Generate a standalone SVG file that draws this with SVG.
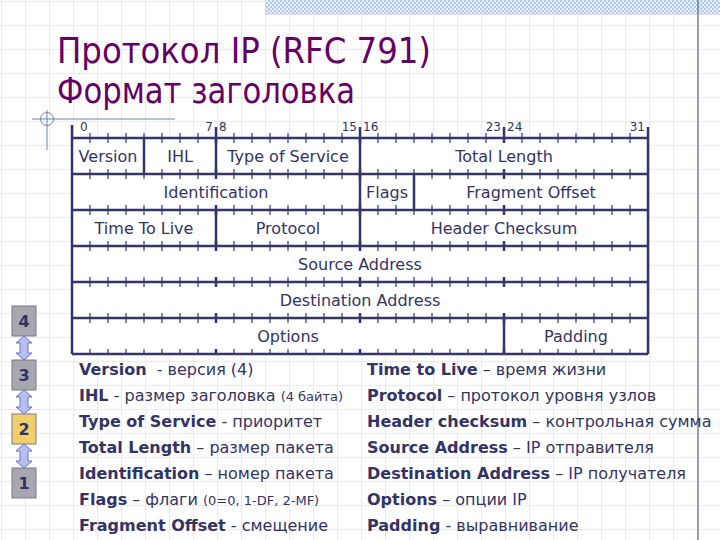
<svg xmlns="http://www.w3.org/2000/svg" width="720" height="540" viewBox="0 0 720 540">
<defs>
<pattern id="grid" patternUnits="userSpaceOnUse" x="1" y="1" width="24" height="24">
<path d="M0 0H24M0 0V24" fill="none" stroke="#e3e3ea" stroke-width="1.5"/>
</pattern>
<pattern id="hatch" patternUnits="userSpaceOnUse" width="4" height="4">
<rect width="4" height="4" fill="#e4eef8"/>
<rect width="2" height="2" fill="#b4cce4"/>
<rect x="2" y="2" width="2" height="2" fill="#b4cce4"/>
</pattern>
<polygon id="darr" points="0,0 8,7 4,7 4,17 8,17 0,24 -8,17 -4,17 -4,7 -8,7"/>
<style>
.t{font-family:"DejaVu Sans","Noto Sans",sans-serif;font-size:16px;fill:#333366;text-anchor:middle}
.r{font-family:"DejaVu Sans","Noto Sans",sans-serif;font-size:12px;fill:#333366}
.ln{stroke:#35356a;stroke-width:2.5;fill:none}
.tk{stroke:#35356a;fill:none}
.d{font-family:"DejaVu Sans","Noto Sans",sans-serif;font-size:16px;fill:#333366}
.b{font-weight:bold;font-size:16px}
.s{font-size:13px}
.box{stroke:#7a7a86;stroke-width:1}
.num{font-family:"DejaVu Sans","Noto Sans",sans-serif;font-size:16px;font-weight:bold;fill:#333366;text-anchor:middle}
.arr{fill:#b6bef2;stroke:#6a74c4;stroke-width:1}
</style>
</defs>
<rect width="720" height="540" fill="#ffffff"/>
<rect width="720" height="540" fill="url(#grid)"/>
<rect x="265" y="0" width="455" height="13" fill="url(#hatch)"/>
<line x1="265" y1="14" x2="720" y2="14" stroke="#d8dcf4" stroke-width="2"/>
<line x1="698" y1="0" x2="698" y2="540" stroke="#7a7e9a" stroke-width="1.5"/>
<g id="crosshair" stroke="#7080b8" stroke-width="1" fill="none">
<line x1="32" y1="119" x2="175" y2="119"/>
<circle cx="47" cy="119" r="6.5"/>
<line x1="47" y1="110" x2="47" y2="150"/>
</g>
<g id="title" font-family="DejaVu Sans,Noto Sans,sans-serif" font-size="36" fill="#660066">
<text x="57" y="63" textLength="374" lengthAdjust="spacingAndGlyphs">Протокол IP (RFC 791)</text>
<text x="57" y="103" textLength="298" lengthAdjust="spacingAndGlyphs">Формат заголовка</text>
</g>
<g id="ip-header">
<rect x="72" y="138" width="576" height="216" fill="#ffffff"/>
<g id="ruler">
<text class="r" x="80" y="131">0</text>
<text class="r" x="213" y="131" text-anchor="end">7</text>
<text class="r" x="219" y="131">8</text>
<text class="r" x="357" y="131" text-anchor="end">15</text>
<text class="r" x="363" y="131">16</text>
<text class="r" x="501" y="131" text-anchor="end">23</text>
<text class="r" x="507" y="131">24</text>
<text class="r" x="645" y="131" text-anchor="end">31</text>
</g>
<g id="ticks">
<path class="tk" stroke-width="10" stroke-dasharray="1.2 16.8" d="M89.4 138H632M89.4 174H632M89.4 210H632M89.4 246H632M89.4 282H632M89.4 318H632"/>
<path class="tk" stroke-width="5" stroke-dasharray="1.2 16.8" d="M89.4 351.5H632"/>
<path class="ln" d="M216 127V143M360 127V143M504 127V143"/>
<path class="ln" stroke-dasharray="10 26" d="M216 169V354M360 169V354M504 169V354"/>
</g>
<g id="grid-lines">
<path class="ln" d="M72 138H648M72 174H648M72 210H648M72 246H648M72 282H648M72 318H648M72 354H648"/>
<path class="ln" d="M72 125V354M648 127V354"/>
<path class="ln" d="M144 138V174M216 138V174M360 138V174M360 174V210M414 174V210M216 210V246M360 210V246M504 318V354"/>
</g>
<g id="f-version"><text class="t" x="108" y="162">Version</text></g>
<g id="f-ihl"><text class="t" x="180" y="162">IHL</text></g>
<g id="f-tos"><text class="t" x="288" y="162">Type of Service</text></g>
<g id="f-totlen"><text class="t" x="504" y="162">Total Length</text></g>
<g id="f-ident"><text class="t" x="216" y="198">Identification</text></g>
<g id="f-flags"><text class="t" x="387" y="198">Flags</text></g>
<g id="f-fragoff"><text class="t" x="531" y="198">Fragment Offset</text></g>
<g id="f-ttl"><text class="t" x="144" y="234">Time To Live</text></g>
<g id="f-proto"><text class="t" x="288" y="234">Protocol</text></g>
<g id="f-cksum"><text class="t" x="504" y="234">Header Checksum</text></g>
<g id="f-src"><text class="t" x="360" y="270">Source Address</text></g>
<g id="f-dst"><text class="t" x="360" y="306">Destination Address</text></g>
<g id="f-opts"><text class="t" x="288" y="342">Options</text></g>
<g id="f-pad"><text class="t" x="576" y="342">Padding</text></g>
</g>
<g id="layer4"><rect class="box" x="12" y="306" width="24" height="30" fill="#a7a7b0"/><text class="num" x="24" y="327">4</text></g>
<g id="layer3"><rect class="box" x="12" y="360" width="24" height="30" fill="#a7a7b0"/><text class="num" x="24" y="381">3</text></g>
<g id="layer2"><rect class="box" x="12" y="414" width="24" height="30" fill="#f2cf6a"/><text class="num" x="24" y="435">2</text></g>
<g id="layer1"><rect class="box" x="12" y="468" width="24" height="30" fill="#a7a7b0"/><text class="num" x="24" y="489">1</text></g>
<g id="connectors">
<use href="#darr" class="arr" x="24" y="336"/>
<use href="#darr" class="arr" x="24" y="390"/>
<use href="#darr" class="arr" x="24" y="444"/>
</g>
<g id="legend-left">
<text class="d" x="79" y="375"><tspan class="b">Version</tspan><tspan dx="10">- версия (4)</tspan></text>
<text class="d" x="79" y="401"><tspan class="b">IHL</tspan> - размер заголовка <tspan class="s">(4 байта)</tspan></text>
<text class="d" x="79" y="427"><tspan class="b">Type of Service</tspan> - приоритет</text>
<text class="d" x="79" y="453"><tspan class="b">Total Length</tspan> – размер пакета</text>
<text class="d" x="79" y="479"><tspan class="b">Identification</tspan> – номер пакета</text>
<text class="d" x="79" y="505"><tspan class="b">Flags</tspan> – флаги <tspan class="s">(0=0, 1-DF, 2-MF)</tspan></text>
<text class="d" x="79" y="531"><tspan class="b">Fragment Offset</tspan> - смещение</text>
</g>
<g id="legend-right">
<text class="d" x="367" y="375"><tspan class="b">Time to Live</tspan> – время жизни</text>
<text class="d" x="367" y="401"><tspan class="b">Protocol</tspan> – протокол уровня узлов</text>
<text class="d" x="367" y="427"><tspan class="b">Header checksum</tspan> – контрольная сумма</text>
<text class="d" x="367" y="453"><tspan class="b">Source Address</tspan> – IP отправителя</text>
<text class="d" x="367" y="479"><tspan class="b">Destination Address</tspan> – IP получателя</text>
<text class="d" x="367" y="505"><tspan class="b">Options</tspan> – опции IP</text>
<text class="d" x="367" y="531"><tspan class="b">Padding</tspan> - выравнивание</text>
</g>
</svg>
